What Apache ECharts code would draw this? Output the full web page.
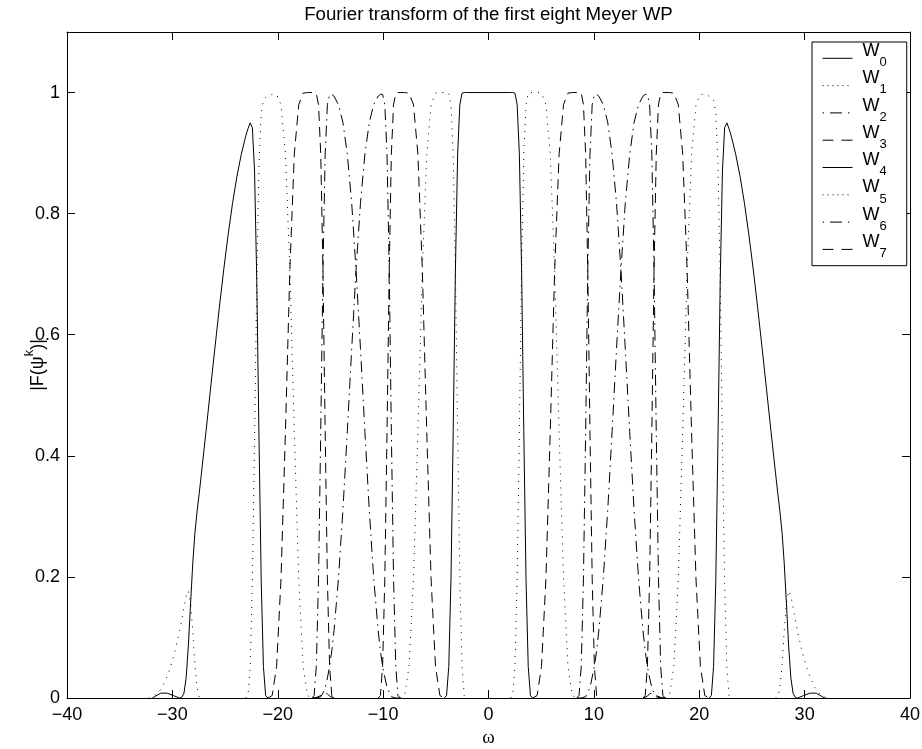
<!DOCTYPE html>
<html>
<head>
<meta charset="utf-8">
<script src="https://cdn.jsdelivr.net/npm/echarts/dist/echarts.min.js"></script>
<style>
  html, body { margin: 0; padding: 0; background: #fff; }
  #chart { width: 922px; height: 749px; }
</style>
</head>
<body>
<div id="chart"></div>
<script>
// |F(psi^k)| for the first eight Meyer wavelet packets, sampled as (omega, magnitude) pairs.
const TITLE = 'Fourier transform of the first eight Meyer WP';
const X_MIN = -40, X_MAX = 40, X_STEP = 10;
const Y_MIN = 0, Y_MAX = 1.1, Y_STEP = 0.2;
const GAP = ['-', '-']; // breaks a line where the curve lies on the axis

const w0 = [[-4.19,0],[-3.98,0.004],[-3.77,0.052],[-3.56,0.197],[-3.35,0.44],[-3.14,0.707],[-2.93,0.898],[-2.72,0.98],[-2.51,0.999],[-2.3,1],[-2.09,1],
            [2.09,1],[2.3,1],[2.51,0.999],[2.72,0.98],[2.93,0.898],[3.14,0.707],[3.35,0.44],[3.56,0.197],[3.77,0.052],[3.98,0.004],[4.19,0]];

const w1Neg = [[-8.38,0],[-7.96,0.004],[-7.54,0.052],[-7.12,0.197],[-6.7,0.44],[-6.28,0.707],[-5.86,0.898],[-5.45,0.98],[-5.03,0.999],[-4.61,1],[-4.19,1],
               [-3.98,1],[-3.77,0.999],[-3.56,0.98],[-3.35,0.898],[-3.14,0.707],[-2.93,0.44],[-2.72,0.197],[-2.51,0.052],[-2.3,0.004],[-2.09,0]];
const w1Pos = [[2.09,0],[2.3,0.004],[2.51,0.052],[2.72,0.197],[2.93,0.44],[3.14,0.707],[3.35,0.898],[3.56,0.98],[3.77,0.999],[3.98,1],[4.19,1],
               [4.61,1],[5.03,0.999],[5.45,0.98],[5.86,0.898],[6.28,0.707],[6.7,0.44],[7.12,0.197],[7.54,0.052],[7.96,0.004],[8.38,0]];

const w2Neg = [[-16.34,0],[-15.92,0.002],[-15.71,0.008],[-15.5,0.017],[-15.29,0.033],[-15.08,0.052],[-14.87,0.078],[-14.66,0.111],[-14.24,0.197],[-13.82,0.309],
               [-13.4,0.44],[-12.98,0.577],[-12.57,0.707],[-12.15,0.817],[-11.73,0.898],[-11.31,0.951],[-10.89,0.98],[-10.47,0.994],[-10.26,0.997],[-10.05,0.997],
               [-9.84,0.98],[-9.63,0.898],[-9.42,0.707],[-9.22,0.44],[-9.01,0.197],[-8.8,0.052],[-8.59,0.004],[-8.38,0]];
const w2Pos = [[8.38,0],[8.59,0.004],[8.8,0.052],[9.01,0.197],[9.22,0.44],[9.42,0.707],[9.63,0.898],[9.84,0.98],[10.05,0.997],[10.26,0.997],
               [10.47,0.994],[10.89,0.98],[11.31,0.951],[11.73,0.898],[12.15,0.817],[12.57,0.707],[12.98,0.577],[13.4,0.44],[13.82,0.309],[14.24,0.197],
               [14.66,0.111],[14.87,0.078],[15.08,0.052],[15.29,0.033],[15.5,0.017],[15.71,0.008],[15.92,0.002],[16.34,0]];

const w3TailNeg = [[-16.76,0],[-16.34,0.001],[-15.92,0.004],[-15.71,0.008],[-15.5,0.008],[-15.29,0.007],[-15.08,0.003],[-14.66,0]];
const w3MainNeg = [[-10.47,0],[-10.26,0.004],[-10.05,0.052],[-9.84,0.197],[-9.63,0.44],[-9.42,0.707],[-9.22,0.898],[-9.01,0.98],[-8.8,0.999],[-8.59,1],[-8.38,1],
                   [-7.96,1],[-7.54,0.999],[-7.12,0.98],[-6.7,0.898],[-6.28,0.707],[-5.86,0.44],[-5.45,0.197],[-5.03,0.052],[-4.61,0.004],[-4.19,0]];
const w3MainPos = [[4.19,0],[4.61,0.004],[5.03,0.052],[5.45,0.197],[5.86,0.44],[6.28,0.707],[6.7,0.898],[7.12,0.98],[7.54,0.999],[7.96,1],[8.38,1],
                   [8.59,1],[8.8,0.999],[9.01,0.98],[9.22,0.898],[9.42,0.707],[9.63,0.44],[9.84,0.197],[10.05,0.052],[10.26,0.004],[10.47,0]];
const w3TailPos = [[14.66,0],[15.08,0.003],[15.29,0.007],[15.5,0.008],[15.71,0.008],[15.92,0.004],[16.34,0.001],[16.76,0]];

const w4Neg = [[-31.9,0],[-31.6,0.003],[-31.1,0.008],[-30.5,0.008],[-29.9,0.004],[-29.32,0],[-29.11,0.001],[-28.9,0.008],[-28.69,0.034],[-28.48,0.087],
               [-28.27,0.157],[-28.06,0.224],[-27.86,0.273],[-27.65,0.309],[-27.44,0.34],[-27.23,0.373],[-26.81,0.44],[-26.39,0.509],[-25.97,0.577],[-25.55,0.644],
               [-25.13,0.707],[-24.71,0.765],[-24.29,0.817],[-23.88,0.861],[-23.46,0.898],[-23.04,0.928],[-22.83,0.94],[-22.62,0.95],[-22.41,0.942],[-22.2,0.87],
               [-21.99,0.689],[-21.78,0.431],[-21.57,0.194],[-21.36,0.052],[-21.15,0.004],[-20.94,0]];
const w4Pos = [[20.94,0],[21.15,0.004],[21.36,0.052],[21.57,0.194],[21.78,0.431],[21.99,0.689],[22.2,0.87],[22.41,0.942],[22.62,0.95],[22.83,0.94],
               [23.04,0.928],[23.46,0.898],[23.88,0.861],[24.29,0.817],[24.71,0.765],[25.13,0.707],[25.55,0.644],[25.97,0.577],[26.39,0.509],[26.81,0.44],
               [27.23,0.373],[27.44,0.34],[27.65,0.309],[27.86,0.273],[28.06,0.224],[28.27,0.157],[28.48,0.087],[28.69,0.034],[28.9,0.008],[29.11,0.001],
               [29.32,0],[29.9,0.004],[30.5,0.008],[31.1,0.008],[31.6,0.003],[31.9,0]];

const w5OuterNeg = [[-32.25,0],[-31.84,0.002],[-31.42,0.007],[-31,0.017],[-30.58,0.032],[-30.16,0.052],[-29.74,0.078],[-29.32,0.111],[-29.11,0.129],[-28.9,0.15],
                    [-28.69,0.169],[-28.48,0.177],[-28.27,0.157],[-28.06,0.11],[-27.86,0.055],[-27.65,0.016],[-27.44,0.001],[-27.23,0]];
const w5MainNeg = [[-23.04,0],[-22.83,0.004],[-22.62,0.05],[-22.41,0.189],[-22.2,0.426],[-21.99,0.689],[-21.78,0.881],[-21.57,0.966],[-21.36,0.987],[-21.15,0.992],
                   [-20.94,0.994],[-20.53,0.997],[-20.11,0.997],[-19.69,0.98],[-19.27,0.898],[-18.85,0.707],[-18.43,0.44],[-18.01,0.197],[-17.59,0.052],[-17.17,0.004],[-16.76,0]];
const w5MainPos = [[16.76,0],[17.17,0.004],[17.59,0.052],[18.01,0.197],[18.43,0.44],[18.85,0.707],[19.27,0.898],[19.69,0.98],[20.11,0.997],[20.53,0.997],
                   [20.94,0.994],[21.15,0.992],[21.36,0.987],[21.57,0.966],[21.78,0.881],[21.99,0.689],[22.2,0.426],[22.41,0.189],[22.62,0.05],[22.83,0.004],[23.04,0]];
const w5OuterPos = [[27.23,0],[27.44,0.001],[27.65,0.016],[27.86,0.055],[28.06,0.11],[28.27,0.157],[28.48,0.177],[28.69,0.169],[28.9,0.15],[29.11,0.129],
                    [29.32,0.111],[29.74,0.078],[30.16,0.052],[30.58,0.032],[31,0.017],[31.42,0.007],[31.84,0.002],[32.25,0]];

const w6Neg = [[-16.76,0],[-16.55,0.004],[-16.34,0.052],[-16.13,0.197],[-15.92,0.44],[-15.71,0.707],[-15.5,0.898],[-15.29,0.98],[-15.08,0.997],[-14.87,0.997],
               [-14.66,0.994],[-14.24,0.98],[-13.82,0.951],[-13.4,0.898],[-12.98,0.817],[-12.57,0.707],[-12.15,0.577],[-11.73,0.44],[-11.31,0.309],[-10.89,0.197],
               [-10.47,0.111],[-10.26,0.078],[-10.05,0.052],[-9.63,0.017],[-9.22,0.002],[-8.8,0],[-8.38,0]];
const w6Pos = [[8.38,0],[8.8,0],[9.22,0.002],[9.63,0.017],[10.05,0.052],[10.26,0.078],[10.47,0.111],[10.89,0.197],[11.31,0.309],[11.73,0.44],
               [12.15,0.577],[12.57,0.707],[12.98,0.817],[13.4,0.898],[13.82,0.951],[14.24,0.98],[14.66,0.994],[14.87,0.997],[15.08,0.997],[15.29,0.98],
               [15.5,0.898],[15.71,0.707],[15.92,0.44],[16.13,0.197],[16.34,0.052],[16.55,0.004],[16.76,0]];

const w7Neg = [[-20.94,0],[-20.53,0.004],[-20.11,0.052],[-19.69,0.197],[-19.27,0.44],[-18.85,0.707],[-18.43,0.898],[-18.01,0.98],[-17.59,0.999],[-17.17,1],
               [-16.76,1],[-16.55,1],[-16.34,0.998],[-16.13,0.98],[-15.92,0.898],[-15.71,0.707],[-15.5,0.44],[-15.29,0.197],[-15.08,0.052],[-14.87,0.004],[-14.66,0]];
const w7Pos = [[14.66,0],[14.87,0.004],[15.08,0.052],[15.29,0.197],[15.5,0.44],[15.71,0.707],[15.92,0.898],[16.13,0.98],[16.34,0.998],[16.55,1],
               [16.76,1],[17.17,1],[17.59,0.999],[18.01,0.98],[18.43,0.898],[18.85,0.707],[19.27,0.44],[19.69,0.197],[20.11,0.052],[20.53,0.004],[20.94,0]];

const SERIES_NAMES = ['W0', 'W1', 'W2', 'W3', 'W4', 'W5', 'W6', 'W7'];

// line patterns for the curves and for the legend samples
const SOLID = 'solid';
const DOTTED = [1, 6];
const DASHDOT = [11, 5, 1.5, 5];
const DASHED = [10, 6];
const LINE_TYPES = [SOLID, DOTTED, DASHDOT, DASHED, SOLID, DOTTED, DASHDOT, DASHED];
const LEGEND_TYPES = [SOLID, [1, 4], [1.5, 6, 12, 6], [11, 8], SOLID, [1, 4], [1.5, 6, 12, 6], [11, 8]];

const SERIES_DATA = [
  w0,
  w1Neg.concat([GAP], w1Pos),
  w2Neg.concat([GAP], w2Pos),
  w3TailNeg.concat([GAP], w3MainNeg, [GAP], w3MainPos, [GAP], w3TailPos),
  w4Neg.concat([GAP], w4Pos),
  w5OuterNeg.concat([GAP], w5MainNeg, [GAP], w5MainPos, [GAP], w5OuterPos),
  w6Neg.concat([GAP], w6Pos),
  w7Neg.concat([GAP], w7Pos)
];

const FONT = '"Liberation Sans", Arial, Helvetica, sans-serif';
const SERIF = '"Liberation Serif", "DejaVu Serif", serif';
const BLACK = '#000';

const chart = echarts.init(document.getElementById('chart'), null, { renderer: 'canvas' });

const axisCommon = {
  axisLine: { show: true, onZero: false, lineStyle: { color: BLACK, width: 1 } },
  axisTick: { show: true, inside: true, length: 8, lineStyle: { color: BLACK, width: 1 } },
  splitLine: { show: false },
  minorTick: { show: false }
};

const option = {
  animation: false,
  backgroundColor: '#fff',
  graphic: [{
    type: 'text',
    x: 488.5,
    y: 14.5,
    silent: true,
    style: {
      text: TITLE,
      fill: BLACK,
      font: '18.7px ' + FONT,
      align: 'center',
      verticalAlign: 'middle'
    }
  }],
  grid: { left: 67, right: 12, top: 32, bottom: 51, containLabel: false, outerBoundsMode: 'none' },
  xAxis: [
    Object.assign({
      type: 'value', min: X_MIN, max: X_MAX, interval: X_STEP, position: 'bottom',
      axisLabel: {
        show: true, margin: 8, color: BLACK, fontFamily: FONT, fontSize: 18,
        formatter: v => (v < 0 ? '\u2212' + Math.abs(v) : String(v))
      },
      name: '\u03c9', nameLocation: 'middle', nameGap: 31, nameMoveOverlap: false,
      nameTextStyle: { color: BLACK, fontFamily: SERIF, fontSize: 19 }
    }, axisCommon),
    Object.assign({
      type: 'value', min: X_MIN, max: X_MAX, interval: X_STEP, position: 'top',
      axisLabel: { show: false }
    }, axisCommon)
  ],
  yAxis: [
    Object.assign({
      type: 'value', min: Y_MIN, max: Y_MAX, interval: Y_STEP, position: 'left',
      axisLabel: { show: true, margin: 7, color: BLACK, fontFamily: FONT, fontSize: 18, showMaxLabel: false },
      name: '{a||F(\u03c8}{k|k}{a|)|}', nameLocation: 'middle', nameRotate: 90, nameGap: 20, nameMoveOverlap: false,
      nameTextStyle: {
        color: BLACK, fontFamily: FONT, fontSize: 18,
        rich: {
          a: { fontFamily: FONT, fontSize: 18, lineHeight: 24, verticalAlign: 'bottom', color: BLACK },
          k: { fontFamily: FONT, fontSize: 13, lineHeight: 24, verticalAlign: 'top', color: BLACK }
        }
      }
    }, axisCommon),
    Object.assign({
      type: 'value', min: Y_MIN, max: Y_MAX, interval: Y_STEP, position: 'right',
      axisLabel: { show: false }
    }, axisCommon)
  ],
  legend: {
    show: true,
    orient: 'vertical',
    left: 812,
    top: 42,
    selectedMode: false,
    data: SERIES_NAMES.map((name, i) => ({ name: name, lineStyle: { type: LEGEND_TYPES[i] } })),
    itemWidth: 30,
    itemHeight: 14,
    itemGap: -5.3,
    padding: [0, 20, 0, 10],
    borderColor: BLACK,
    borderWidth: 1,
    borderRadius: 0,
    backgroundColor: '#fff',
    itemStyle: { opacity: 0 },
    lineStyle: { width: 1, color: BLACK },
    formatter: name => '{w|W}{s|' + name.slice(1) + '}',
    textStyle: {
      color: BLACK, fontFamily: FONT, fontSize: 18,
      rich: {
        w: { fontFamily: FONT, fontSize: 18, lineHeight: 32.6, verticalAlign: 'top', padding: [0, 0, 0, 5], color: BLACK },
        s: { fontFamily: FONT, fontSize: 13, lineHeight: 32.6, verticalAlign: 'bottom', padding: [0, 0, 5.6, 0], color: BLACK }
      }
    }
  },
  series: SERIES_NAMES.map((name, i) => ({
    type: 'line',
    name: name,
    data: SERIES_DATA[i],
    xAxisIndex: 0,
    yAxisIndex: 0,
    symbol: 'none',
    showSymbol: false,
    connectNulls: false,
    clip: true,
    silent: true,
    smooth: false,
    lineStyle: { color: BLACK, width: 1, type: LINE_TYPES[i], cap: 'butt' },
    itemStyle: { color: BLACK },
    emphasis: { disabled: true }
  }))
};

chart.setOption(option);
</script>
</body>
</html>
